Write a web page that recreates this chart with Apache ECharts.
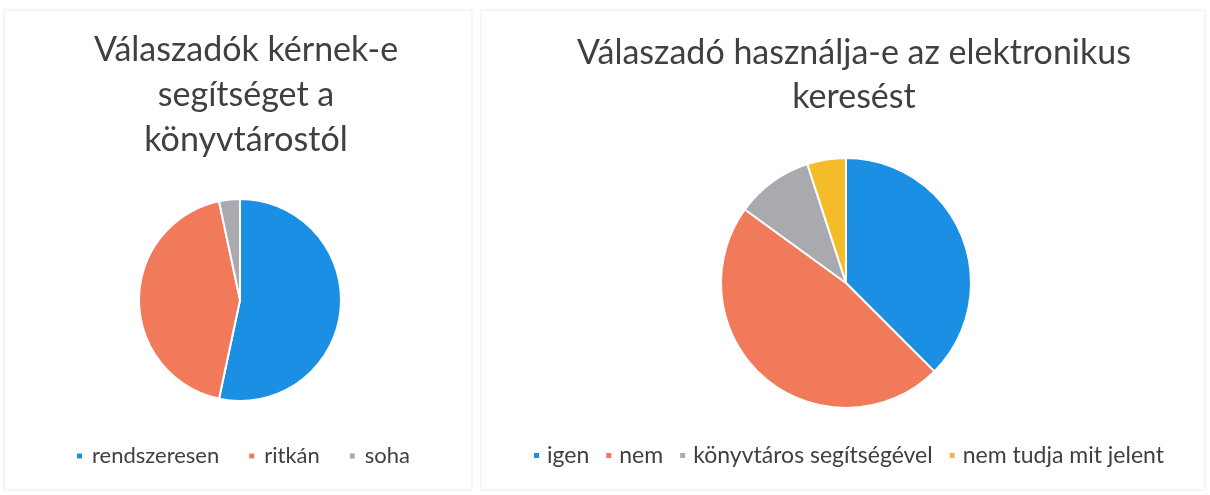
<!DOCTYPE html>
<html>
<head>
<meta charset="utf-8">
<script src="https://cdn.jsdelivr.net/npm/echarts@6/dist/echarts.min.js"></script>
<style>
  html, body { margin: 0; padding: 0; background: #fff; }
  #main { width: 1210px; height: 495px; }
</style>
</head>
<body>
<div id="main"></div>
<script>
// bal oldali diagram: segítséget kérnek-e
var leftTitle = 'Válaszadók kérnek-e\nsegítséget a\nkönyvtárostól';
var leftNames = ['rendszeresen', 'ritkán', 'soha'];
var leftValues = [16, 13, 1];

// jobb oldali diagram: elektronikus keresés
var rightTitle = 'Válaszadó használja-e az elektronikus\nkeresést';
var rightNames = ['igen', 'nem', 'könyvtáros segítségével', 'nem tudja mit jelent'];
var rightValues = [15, 19, 4, 2];

var colors = ['#1a8fe3', '#f07a5a', '#a9a9b0', '#f5bc2a'];

(function() {
	var chart = echarts.init(document.getElementById('main'));

	function toData(names, values) {
		var out = [];
		for (var i = 0; i < names.length; i++) {
			out.push({ name: names[i], value: values[i], itemStyle: { color: colors[i] } });
		}
		return out;
	}

	var font = 'Lato, "Open Sans", sans-serif';

	option = {
		animation: false,
		title: [
			{
				text: leftTitle,
				left: 241,
				top: 23,
				textAlign: 'center',
				textStyle: { fontFamily: font, fontSize: 34, fontWeight: 'normal', color: '#404040', lineHeight: 45 }
			},
			{
				text: rightTitle,
				left: 849,
				top: 26,
				textAlign: 'center',
				textStyle: { fontFamily: font, fontSize: 34, fontWeight: 'normal', color: '#404040', lineHeight: 44 }
			}
		],
		legend: [
			{
				data: leftNames,
				left: 70,
				top: 440,
				itemWidth: 7,
				itemHeight: 7,
				itemGap: 28,
				icon: 'rect',
				textStyle: { fontFamily: font, fontSize: 22, color: '#404040', padding: [0, 0, 0, 4] }
			},
			{
				data: rightNames,
				left: 527,
				top: 439,
				itemWidth: 7,
				itemHeight: 7,
				itemGap: 15,
				icon: 'rect',
				textStyle: { fontFamily: font, fontSize: 23, color: '#404040', padding: [0, 0, 0, 2] }
			}
		],
		graphic: [
			{ type: 'rect', shape: { x: 4, y: 10, width: 468, height: 480 }, style: { fill: 'none', stroke: '#ececec', lineWidth: 1 }, silent: true },
			{ type: 'rect', shape: { x: 481, y: 10, width: 724, height: 480 }, style: { fill: 'none', stroke: '#ececec', lineWidth: 1 }, silent: true }
		],
		series: [
			{
				name: 'segítség',
				type: 'pie',
				center: [240, 300],
				radius: 101,
				startAngle: 90,
				clockwise: true,
				label: { show: false },
				labelLine: { show: false },
				itemStyle: { borderColor: '#fff', borderWidth: 2 },
				data: toData(leftNames, leftValues)
			},
			{
				name: 'keresés',
				type: 'pie',
				center: [846, 283],
				radius: 125,
				startAngle: 90,
				clockwise: true,
				label: { show: false },
				labelLine: { show: false },
				itemStyle: { borderColor: '#fff', borderWidth: 2 },
				data: toData(rightNames, rightValues)
			}
		]
	};

	chart.setOption(option);
})();
</script>
</body>
</html>
